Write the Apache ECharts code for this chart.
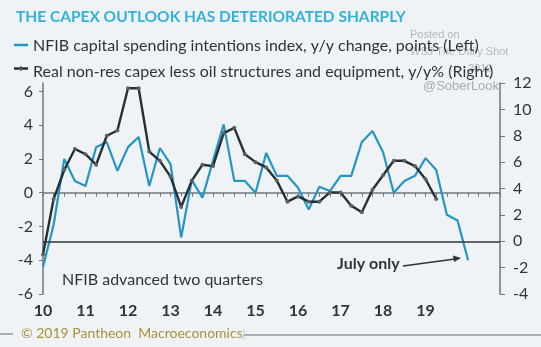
<!DOCTYPE html>
<html><head><meta charset="utf-8">
<script src="https://cdn.jsdelivr.net/npm/echarts@6/dist/echarts.min.js"></script>
<style>html,body{margin:0;padding:0;background:#f0f3f6;}#c{width:541px;height:347px;}</style>
</head><body><div id="c"></div>
<script>
var quarters = ['2010Q1','2010Q2','2010Q3','2010Q4','2011Q1','2011Q2','2011Q3','2011Q4',
'2012Q1','2012Q2','2012Q3','2012Q4','2013Q1','2013Q2','2013Q3','2013Q4',
'2014Q1','2014Q2','2014Q3','2014Q4','2015Q1','2015Q2','2015Q3','2015Q4',
'2016Q1','2016Q2','2016Q3','2016Q4','2017Q1','2017Q2','2017Q3','2017Q4',
'2018Q1','2018Q2','2018Q3','2018Q4','2019Q1','2019Q2','2019Q3','2019Q4',
'2020Q1','2020Q2','2020Q3','2020Q4'];
var yearLabels = ['10','11','12','13','14','15','16','17','18','19'];
var nfib = [-4.4,-1.9,2.0,0.7,0.4,2.7,3.0,1.3,2.7,3.3,0.4,2.65,1.7,-2.65,0.75,-0.3,1.9,4.05,0.7,0.7,
0.0,2.35,1.0,1.0,0.3,-1.0,0.35,0.1,1.0,1.0,3.0,3.65,2.4,0.0,0.7,1.0,2.05,1.35,-1.3,-1.65,-4.0];
var capex = [-1.0,3.2,5.4,7.0,6.6,5.8,8.0,8.4,11.6,11.6,6.8,6.1,4.9,2.6,4.6,5.8,5.7,8.2,8.6,6.6,
6.0,5.6,4.6,3.0,3.4,3.0,3.0,3.7,3.7,2.7,2.2,3.9,5.0,6.1,6.1,5.7,4.7,3.2];
var leftTicks = [-6,-4,-2,0,2,4,6];
var seriesNames = ['NFIB capital spending intentions index, y/y change, points (Left)',
                   'Real non-res capex less oil structures and equipment, y/y% (Right)'];

var FONT = 'Lato';
var TXT = '#2b353d';
var BLUE = '#2596c4';
var DARK = '#262f33';
var chart = echarts.init(document.getElementById('c'), null, {renderer:'canvas'});
chart.setOption({
  backgroundColor: '#f0f3f6',
  animation: false,
  textStyle: {fontFamily: FONT},
  title: {text: 'THE CAPEX OUTLOOK HAS DETERIORATED SHARPLY', left: 11, top: 4,
    textStyle: {color: '#33b1da', fontSize: 15.5, fontWeight: 'bold', fontFamily: FONT}},
  legend: {orient: 'vertical', left: 14, top: 38, padding: 0, itemWidth: 14, itemHeight: 14, itemGap: 9.5,
    icon: 'rect', itemStyle: {opacity: 0}, lineStyle: {opacity: 0},
    textStyle: {color: TXT, fontSize: 16, fontFamily: FONT},
    data: seriesNames},
  grid: {left: 43, right: 41, top: 83, bottom: 53},
  xAxis: {type: 'category', data: quarters, boundaryGap: false,
    axisLine: {lineStyle: {color: '#6f777d', width: 1.5}},
    axisTick: {interval: 0, length: 4, lineStyle: {color: '#6f777d'}},
    axisLabel: {interval: function(i){ return i % 4 === 0 && i < 40; }, margin: 9,
      formatter: function(v, i){ return yearLabels[Math.floor(i/4)] || ''; },
      color: TXT, fontSize: 16, fontWeight: 'bold', fontFamily: FONT}},
  yAxis: [
    {type: 'value', min: -6, max: 6.5, interval: 2, position: 'left',
      splitLine: {show: false},
      axisLine: {show: true, lineStyle: {color: '#6f777d', width: 1.5}},
      axisTick: {show: true, length: 4, customValues: leftTicks, lineStyle: {color: '#6f777d'}},
      axisLabel: {customValues: leftTicks, margin: 10, color: TXT, fontSize: 16, fontFamily: FONT}},
    {type: 'value', min: -4, max: 12, interval: 2, position: 'right',
      splitLine: {show: false},
      axisLine: {show: true, lineStyle: {color: '#6f777d', width: 1.5}},
      axisTick: {show: true, length: 5, lineStyle: {color: '#6f777d'}},
      axisLabel: {margin: 13, color: TXT, fontSize: 16, fontFamily: FONT}}
  ],
  series: [
    {name: seriesNames[0], type: 'line',
      yAxisIndex: 0, data: nfib, showSymbol: false, symbol: 'none',
      lineStyle: {color: BLUE, width: 2.2}, itemStyle: {color: BLUE}, z: 2},
    {name: seriesNames[1], type: 'line',
      yAxisIndex: 1, data: capex, symbol: 'circle', symbolSize: 4,
      lineStyle: {color: DARK, width: 2.4}, itemStyle: {color: '#5a6266'}, z: 3,
      markLine: {silent: true, symbol: 'none', label: {show: false},
        lineStyle: {color: '#2e383d', width: 1.5, type: 'solid'}, data: [{yAxis: 0}]}}
  ],
  graphic: [
    {type: 'line', shape: {x1: 14, y1: 45, x2: 28, y2: 45}, style: {stroke: BLUE, lineWidth: 2.5}},
    {type: 'line', shape: {x1: 14, y1: 68.5, x2: 28, y2: 68.5}, style: {stroke: DARK, lineWidth: 2.5}},
    {type: 'line', shape: {x1: 21, y1: 66, x2: 21, y2: 71}, style: {stroke: '#5a6266', lineWidth: 1.5}},
    {type: 'text', left: 410, top: 29, z: -1, style: {text: 'Posted on', fill: '#b3b7bb', fontSize: 11, fontFamily: 'Liberation Sans'}},
    {type: 'text', left: 410, top: 46, z: -1, style: {text: 'WSJ The Daily Shot', fill: '#b3b7bb', fontSize: 11, fontFamily: 'Liberation Sans'}},
    {type: 'text', left: 468, top: 63, z: -1, style: {text: '2019', fill: '#b3b7bb', fontSize: 11, fontFamily: 'Liberation Sans'}},
    {type: 'text', left: 423, top: 80, style: {text: '@SoberLook', fill: '#a7abaf', fontSize: 13, fontFamily: 'Liberation Sans'}},
    {type: 'text', left: 62, top: 272, style: {text: 'NFIB advanced two quarters', fill: TXT, fontSize: 16, fontFamily: FONT}},
    {type: 'text', left: 337, top: 256, style: {text: 'July only', fill: TXT, fontSize: 16, fontWeight: 'bold', fontFamily: FONT}},
    {type: 'line', shape: {x1: 403, y1: 266, x2: 455, y2: 259}, style: {stroke: '#2b353d', lineWidth: 1.5}},
    {type: 'polygon', shape: {points: [[461, 258], [453, 255.5], [454, 262]]}, style: {fill: '#2b353d'}},
    {type: 'line', shape: {x1: 0, y1: 334, x2: 13, y2: 334}, style: {stroke: '#a9b0b6', lineWidth: 2}},
    {type: 'text', left: 21, top: 326, style: {text: '\u00a9 2019 Pantheon  Macroeconomics', fill: '#a6923a', fontSize: 14, fontFamily: FONT}},
    {type: 'line', shape: {x1: 244, y1: 329, x2: 244, y2: 340}, style: {stroke: '#c8cdd1', lineWidth: 1}},
    {type: 'line', shape: {x1: 244, y1: 335, x2: 541, y2: 335}, style: {stroke: '#a9b0b6', lineWidth: 2}}
  ]
});
</script></body></html>
